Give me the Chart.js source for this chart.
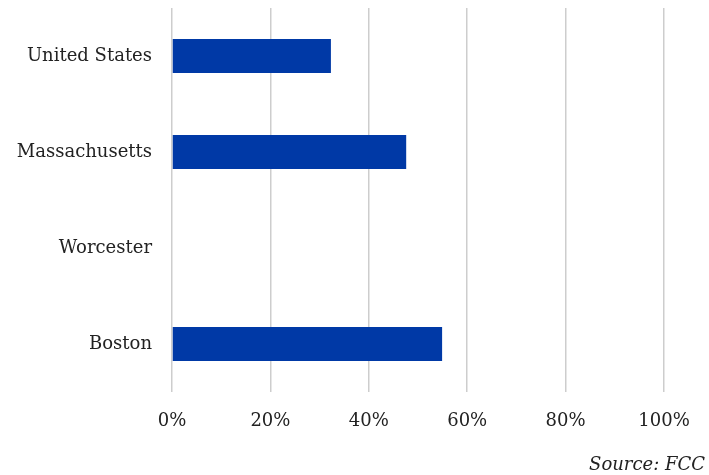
<!DOCTYPE html>
<html>
<head>
<meta charset="utf-8">
<script src="https://cdn.jsdelivr.net/npm/chart.js@4/dist/chart.umd.min.js"></script>
<style>
  html, body { margin: 0; padding: 0; background: #fff; }
  #wrap { width: 709px; height: 475px; }
</style>
</head>
<body>
<div id="wrap"><canvas id="barChart" width="709" height="475"></canvas></div>
<script>
// 지역별 값 (%), 그림에서 읽은 값
const regions = ['United States', 'Massachusetts', 'Worcester', 'Boston'];
const shares = [32.3, 47.6, 0, 54.9];
const xTicks = [0, 20, 40, 60, 80, 100];
const sourceNote = 'Source: FCC';

const FONT = '"DejaVu Serif", serif';

// 출처 문구는 오른쪽 아래에
const sourcePlugin = {
    id: 'sourceNote',
    afterDraw(chart) {
        const ctx = chart.ctx;
        ctx.save();
        ctx.font = 'italic 18px ' + FONT;
        ctx.fillStyle = '#222';
        ctx.textAlign = 'right';
        ctx.textBaseline = 'alphabetic';
        ctx.fillText(sourceNote, chart.width - 4, chart.height - 5);
        ctx.restore();
    }
};

document.addEventListener("DOMContentLoaded", () => {
    const ctx = document.getElementById('barChart').getContext('2d');
    new Chart(ctx, {
        type: 'bar',
        data: {
            labels: regions,
            datasets: [{
                data: shares,
                backgroundColor: '#0039a6',
                borderWidth: 0,
                categoryPercentage: 1,
                barPercentage: 0.355
            }]
        },
        options: {
            indexAxis: 'y',
            responsive: false,
            animation: false,
            layout: {padding: {top: 8, right: 45, bottom: 0, left: 0}},
            plugins: {legend: {display: false}, tooltip: {enabled: false}},
            scales: {
                x: {
                    min: 0,
                    max: 100,
                    afterBuildTicks: axis => { axis.ticks = xTicks.map(v => ({value: v})); },
                    afterFit: axis => {
                        axis.height = 83;
                        axis.paddingTop = 0;
                    },
                    grid: {color: '#cdcdcd', lineWidth: 1.5, drawTicks: false},
                    border: {display: false},
                    ticks: {
                        padding: 19,
                        color: '#222',
                        font: {family: FONT, size: 18},
                        callback: v => v + '%'
                    }
                },
                y: {
                    // 라벨 때문에 생기는 위/아래 여백 제거
                    afterFit: axis => {
                        axis.width = 172;
                        axis.paddingTop = 0;
                        axis.paddingBottom = 0;
                    },
                    grid: {display: false, drawTicks: false},
                    border: {display: false},
                    ticks: {
                        padding: 20,
                        color: '#222',
                        font: {family: FONT, size: 18}
                    }
                }
            }
        },
        plugins: [sourcePlugin]
    });
});
</script>
</body>
</html>
